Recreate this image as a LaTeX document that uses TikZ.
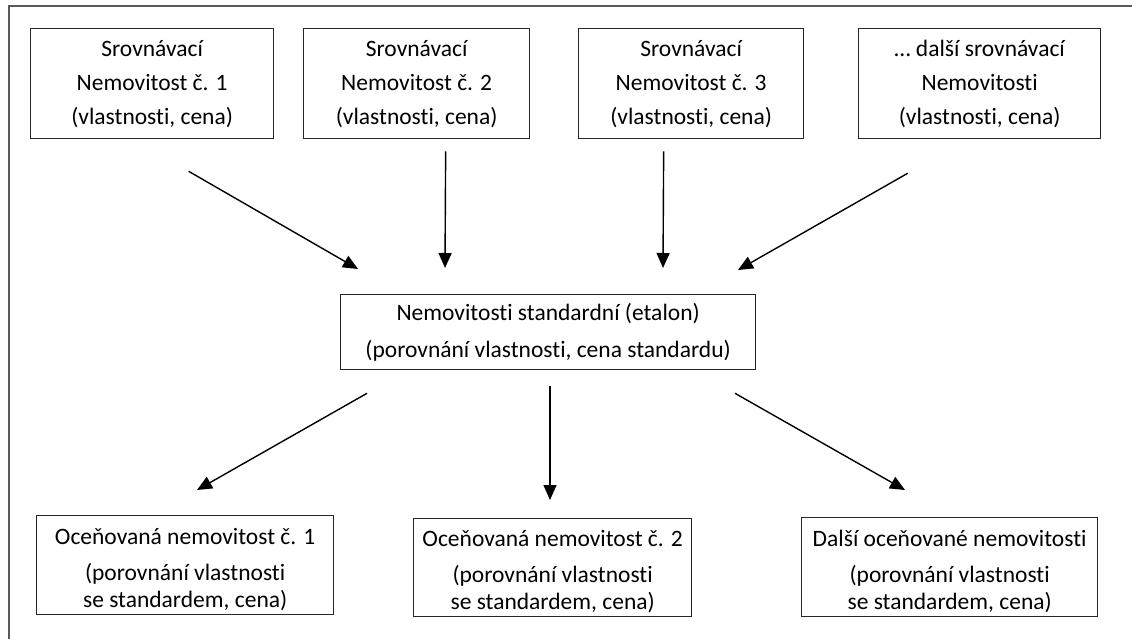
\documentclass[tikz,border=0pt]{standalone}
\usepackage{fontspec}
\setmainfont{Carlito}[Ligatures=NoCommon]
\usetikzlibrary{arrows.meta,calc}
\tikzset{
  box/.style={draw=black!85, line width=1.3pt, inner sep=0pt, align=center, anchor=north west},
  topfont/.style={font=\fontsize{23.5}{34}\selectfont},
  midfont/.style={font=\fontsize{23.5}{37}\selectfont},
  botfont/.style={font=\fontsize{23.5}{27}\selectfont, align=center},
  arr/.style={line width=1.4pt, -{Triangle[length=15pt,width=13pt]}},
  frameline/.style={draw=black!65, line width=2pt}
}
\begin{document}
\begin{tikzpicture}[x=1pt,y=-1pt]
\useasboundingbox (0,0) rectangle (1132,639);
% frame (top and left only)
\draw[frameline] (9,639) -- (9,6) -- (1132,6);
% top boxes
\node[box,topfont,minimum width=243pt,minimum height=110pt] (t1) at (30,28) {Srovnávací\\Nemovitost č. 1\\(vlastnosti, cena)};
\node[box,topfont,minimum width=226pt,minimum height=110pt] (t2) at (303,28) {Srovnávací\\Nemovitost č. 2\\(vlastnosti, cena)};
\node[box,topfont,minimum width=225pt,minimum height=110pt] (t3) at (578,28) {Srovnávací\\Nemovitost č. 3\\(vlastnosti, cena)};
\node[box,topfont,minimum width=242pt,minimum height=110pt] (t4) at (858,28) {… další srovnávací\\Nemovitosti\\(vlastnosti, cena)};
% middle box
\node[box,midfont,minimum width=415pt,minimum height=75pt] (m) at (340,294) {Nemovitosti standardní (etalon)\\(porovnání vlastnosti, cena standardu)};
% bottom boxes (frame + text)
\node[box,minimum width=297pt,minimum height=99pt] (b1box) at (36,515) {};
\node[box,minimum width=278pt,minimum height=98pt] (b2box) at (413,518) {};
\node[box,minimum width=296pt,minimum height=99pt] (b3box) at (801,517) {};
\node[botfont] (b1) at ($(b1box.center)+(0,4)$) {Oceňovaná nemovitost č. 1\\[9pt](porovnání vlastnosti\\se standardem, cena)};
\node[botfont] (b2) at ($(b2box.center)+(0,4)$) {Oceňovaná nemovitost č. 2\\[9pt](porovnání vlastnosti\\se standardem, cena)};
\node[botfont] (b3) at ($(b3box.center)+(0,4)$) {Další oceňované nemovitosti\\[9pt](porovnání vlastnosti\\se standardem, cena)};
% arrows top -> middle
\draw[arr] ($(t1.south)+(36.5,32)$) -- ($(m.north west)+(18,-25)$);
\draw[arr] ($(t2.south)+(29,12)$) -- ($(m.north west)+(105,-26)$);
\draw[arr] ($(t3.south)+(-27.5,12)$) -- ($(m.north west)+(323,-26)$);
\draw[arr] ($(t4.south)+(-72,34)$) -- ($(m.north west)+(398,-24)$);
% arrows middle -> bottom
\draw[arr] ($(m.south west)+(27,23)$) -- ($(b1box.north west)+(161,-25)$);
\draw[arr] ($(m.south west)+(210,16)$) -- ($(b2box.north west)+(137,-18)$);
\draw[arr] ($(m.south west)+(395,23)$) -- ($(b3box.north west)+(104,-27)$);
\end{tikzpicture}
\end{document}
